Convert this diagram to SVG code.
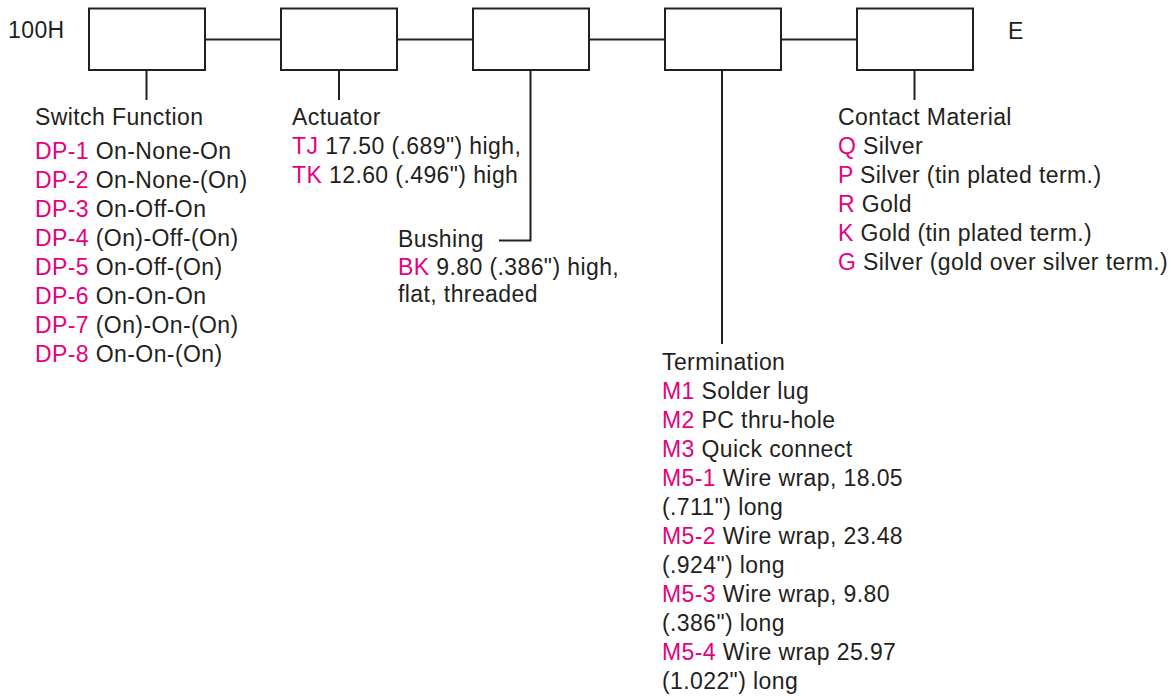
<svg xmlns="http://www.w3.org/2000/svg" width="1171" height="696" viewBox="0 0 1171 696">
<style>
text{font-family:"Liberation Sans",Arial,sans-serif;font-size:23px;letter-spacing:0.4px;fill:#231F20}
.k{fill:#E5007D}
.box{fill:#fff;stroke:#231F20;stroke-width:2}
.ln{stroke:#231F20;stroke-width:2;fill:none}
</style>
<rect width="1171" height="696" fill="#fff"/>
<g id="connectors">
<line class="ln" x1="205" y1="39.5" x2="281" y2="39.5"/>
<line class="ln" x1="397" y1="39.5" x2="473" y2="39.5"/>
<line class="ln" x1="589" y1="39.5" x2="665" y2="39.5"/>
<line class="ln" x1="781" y1="39.5" x2="857" y2="39.5"/>
<line class="ln" x1="146.5" y1="70" x2="146.5" y2="100"/>
<line class="ln" x1="339" y1="70" x2="339" y2="100"/>
<polyline class="ln" points="530.5,70 530.5,240.5 499,240.5"/>
<line class="ln" x1="722" y1="70" x2="722" y2="344"/>
<line class="ln" x1="914.5" y1="70" x2="914.5" y2="100"/>
</g>
<g id="prefix"><text x="8" y="38">100H</text></g>
<g id="suffix"><text x="1008" y="39">E</text></g>
<g id="box1"><rect class="box" x="89" y="8.5" width="116" height="61.5"/></g>
<g id="box2"><rect class="box" x="281" y="8.5" width="116" height="61.5"/></g>
<g id="box3"><rect class="box" x="473" y="8.5" width="116" height="61.5"/></g>
<g id="box4"><rect class="box" x="665" y="8.5" width="116" height="61.5"/></g>
<g id="box5"><rect class="box" x="857" y="8.5" width="116" height="61.5"/></g>
<g id="switch-function">
<text x="35" y="125">Switch Function</text>
<text x="35" y="159"><tspan class="k">DP-1</tspan> On-None-On</text>
<text x="35" y="188"><tspan class="k">DP-2</tspan> On-None-(On)</text>
<text x="35" y="217"><tspan class="k">DP-3</tspan> On-Off-On</text>
<text x="35" y="246"><tspan class="k">DP-4</tspan> (On)-Off-(On)</text>
<text x="35" y="275"><tspan class="k">DP-5</tspan> On-Off-(On)</text>
<text x="35" y="304"><tspan class="k">DP-6</tspan> On-On-On</text>
<text x="35" y="333"><tspan class="k">DP-7</tspan> (On)-On-(On)</text>
<text x="35" y="362"><tspan class="k">DP-8</tspan> On-On-(On)</text>
</g>
<g id="actuator">
<text x="292" y="125">Actuator</text>
<text x="292" y="154"><tspan class="k">TJ</tspan> 17.50 (.689") high,</text>
<text x="292" y="183"><tspan class="k">TK</tspan> 12.60 (.496") high</text>
</g>
<g id="bushing">
<text x="398" y="247">Bushing</text>
<text x="398" y="275"><tspan class="k">BK</tspan> 9.80 (.386") high,</text>
<text x="398" y="302">flat, threaded</text>
</g>
<g id="termination">
<text x="662" y="370">Termination</text>
<text x="662" y="399"><tspan class="k">M1</tspan> Solder lug</text>
<text x="662" y="428"><tspan class="k">M2</tspan> PC thru-hole</text>
<text x="662" y="457"><tspan class="k">M3</tspan> Quick connect</text>
<text x="662" y="486"><tspan class="k">M5-1</tspan> Wire wrap, 18.05</text>
<text x="662" y="515">(.711") long</text>
<text x="662" y="544"><tspan class="k">M5-2</tspan> Wire wrap, 23.48</text>
<text x="662" y="573">(.924") long</text>
<text x="662" y="602"><tspan class="k">M5-3</tspan> Wire wrap, 9.80</text>
<text x="662" y="631">(.386") long</text>
<text x="662" y="660"><tspan class="k">M5-4</tspan> Wire wrap 25.97</text>
<text x="662" y="689">(1.022") long</text>
</g>
<g id="contact-material">
<text x="838" y="125">Contact Material</text>
<text x="838" y="154"><tspan class="k">Q</tspan> Silver</text>
<text x="838" y="183"><tspan class="k">P</tspan> Silver (tin plated term.)</text>
<text x="838" y="212"><tspan class="k">R</tspan> Gold</text>
<text x="838" y="241"><tspan class="k">K</tspan> Gold (tin plated term.)</text>
<text x="838" y="270"><tspan class="k">G</tspan> Silver (gold over silver term.)</text>
</g>
</svg>
